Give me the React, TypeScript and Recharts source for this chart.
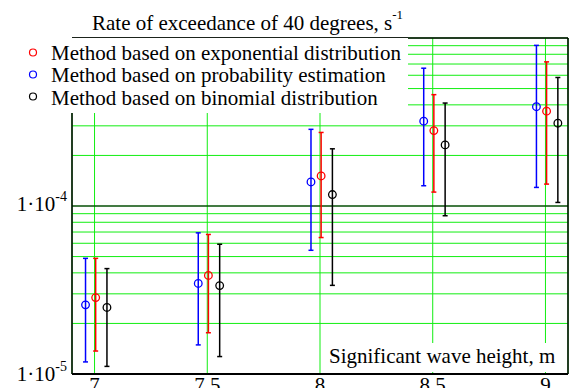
import React from "react";
import {
  ComposedChart,
  Scatter,
  ErrorBar,
  XAxis,
  YAxis,
  CartesianGrid,
  ReferenceLine,
  Legend,
  Customized,
} from "recharts";

const FONT = "Liberation Serif, Times New Roman, serif";

// wave heights (x groups) and axis ticks
const heights = [7, 7.5, 8, 8.5, 9];
const xTicks = [7, 7.5, 8, 8.5, 9];
const decades = [1e-5, 1e-4];
const mantissas = [1, 2, 3, 4, 5, 6, 7, 8, 9];
const labeledTicks = [1e-5, 1e-4];
const yTicks = [...decades.flatMap((d) => mantissas.map((m) => m * d)), 1e-3];

// exponential distribution
const expMean = [2.85e-5, 3.86e-5, 1.51e-4, 2.81e-4, 3.67e-4];
const expLow = [1.37e-5, 1.76e-5, 6.49e-5, 1.21e-4, 1.35e-4];
const expHigh = [4.88e-5, 6.77e-5, 2.74e-4, 4.6e-4, 7.21e-4];

// probability estimation
const probMean = [2.58e-5, 3.46e-5, 1.39e-4, 3.2e-4, 3.9e-4];
const probLow = [1.18e-5, 1.49e-5, 5.45e-5, 1.32e-4, 1.29e-4];
const probHigh = [4.88e-5, 6.92e-5, 2.86e-4, 6.61e-4, 9.04e-4];

// binomial distribution
const binMean = [2.49e-5, 3.36e-5, 1.17e-4, 2.31e-4, 3.11e-4];
const binLow = [1.11e-5, 1.27e-5, 3.37e-5, 8.75e-5, 1.05e-4];
const binHigh = [4.24e-5, 5.92e-5, 2.19e-4, 4.1e-4, 5.82e-4];

const series = [
  {
    name: "Method based on exponential distribution",
    color: "#ff0000",
    shift: 0.005,
    mean: expMean,
    low: expLow,
    high: expHigh,
  },
  {
    name: "Method based on probability estimation",
    color: "#0000ff",
    shift: -0.04,
    mean: probMean,
    low: probLow,
    high: probHigh,
  },
  {
    name: "Method based on binomial distribution",
    color: "#000000",
    shift: 0.055,
    mean: binMean,
    low: binLow,
    high: binHigh,
  },
];

const toPoints = (s: (typeof series)[number]) =>
  heights.map((h, i) => ({
    x: h + s.shift,
    y: s.mean[i],
    err: [s.mean[i] - s.low[i], s.high[i] - s.mean[i]],
  }));

function XTick(props: any) {
  const { x, y, payload } = props;
  return (
    <text x={x} y={y + 10} textAnchor="middle" style={{ fontFamily: FONT }} fontSize={21} fill="#000">
      {payload.value}
    </text>
  );
}

function YTick(props: any) {
  const { x, y, payload } = props;
  const v = payload.value;
  if (!labeledTicks.some((t) => Math.abs(t - v) < t * 1e-6)) return null;
  const exp = Math.round(Math.log10(v));
  const dy = exp === -4 ? 5 : 7;
  return (
    <text x={x + 3} y={y + dy} textAnchor="end" style={{ fontFamily: FONT }} fontSize={21} fill="#000">
      1·10
      <tspan dy={-10} fontSize={14}>
        {exp}
      </tspan>
    </text>
  );
}

function LegendBox(props: any) {
  const payload = props.payload || [];
  // keep the series order of the original legend
  const items = series
    .map((s) => payload.find((p: any) => p.value === s.name))
    .filter(Boolean);
  return (
    <svg width={408} height={75} style={{ display: "block", background: "#fff" }}>
      {items.map((p: any, i: number) => (
        <g key={p.value}>
          <circle cx={33} cy={14.5 + 22 * i} r={3.5} fill="none" stroke={p.color} strokeWidth={1.2} />
          <text x={51} y={21.5 + 22.8 * i} style={{ fontFamily: FONT }} fontSize={21} fill="#000">
            {p.value}
          </text>
        </g>
      ))}
    </svg>
  );
}

function Overlay() {
  return (
    <g style={{ fontFamily: FONT }}>
      <line x1={72} x2={408} y1={38} y2={38} stroke="#666" strokeWidth={1.5} />
      <text x={92} y={29.5} fontSize={21} fill="#000">
        Rate of exceedance of 40 degrees, s
        <tspan dy={-11} fontSize={13}>
          -1
        </tspan>
      </text>
      <rect x={325} y={343} width={241} height={29} fill="#fff" />
      <text x={329} y={362.5} fontSize={21} fill="#000">
        Significant wave height, m
      </text>
    </g>
  );
}

export default function App() {
  return (
    <div style={{ position: "fixed", left: 0, top: 0, background: "#fff", fontFamily: FONT }}>
      <ComposedChart width={571} height={388} margin={{ top: 38, right: 3, left: 0, bottom: 0 }}>
        <CartesianGrid stroke="#11ee11" strokeWidth={1} />
        <XAxis
          type="number"
          dataKey="x"
          domain={[6.9, 9.1]}
          ticks={xTicks}
          interval={0}
          allowDataOverflow
          height={14}
          axisLine={{ stroke: "#000", strokeWidth: 2 }}
          tickLine={false}
          tick={<XTick />}
        />
        <YAxis
          type="number"
          dataKey="y"
          scale="log"
          domain={[1e-5, 1e-3]}
          ticks={yTicks}
          interval={0}
          allowDataOverflow
          width={72}
          axisLine={{ stroke: "#000", strokeWidth: 1.5 }}
          tickLine={false}
          tick={<YTick />}
        />
        <ReferenceLine y={1e-4} stroke="#000" strokeWidth={1.2} />
        <ReferenceLine y={1e-3} stroke="#000" strokeWidth={1.5} />
        <ReferenceLine x={9.1} stroke="#000" strokeWidth={1.5} />
        {series.map((s) => (
          <Scatter
            key={s.name}
            name={s.name}
            data={toPoints(s)}
            fill={s.color}
            isAnimationActive={false}
            shape={(p: any) => (
              <circle cx={p.cx} cy={p.cy} r={3.8} fill="none" stroke={s.color} strokeWidth={1.3} />
            )}
          >
            <ErrorBar dataKey="err" direction="y" width={2.5} stroke={s.color} strokeWidth={1.5} />
          </Scatter>
        ))}
        <Legend
          layout="vertical"
          align="center"
          verticalAlign="middle"
          wrapperStyle={{ position: "absolute", left: 0, top: 38, width: 408, height: 75 }}
          content={<LegendBox />}
        />
        <Customized component={Overlay} />
      </ComposedChart>
    </div>
  );
}
